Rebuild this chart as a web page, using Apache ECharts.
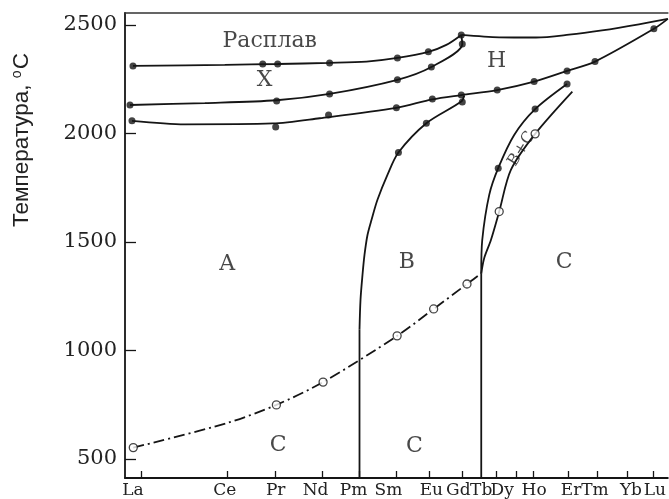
<!DOCTYPE html>
<html><head><meta charset="utf-8">
<script src="https://cdn.jsdelivr.net/npm/echarts@6/dist/echarts.min.js"></script>
<style>html,body{margin:0;padding:0;background:#fff}#c{width:669px;height:499px}</style>
</head><body><div id="c"></div>
<script>
// Element tick positions along the x axis (arbitrary ionic-size scale)
const elements = ['La','Ce','Pr','Nd','Pm','Sm','Eu','Gd','Tb','Dy','Ho','Er','Tm','Yb','Lu'];
const elementPos = [1.6,10.2,15.1,19.8,23.5,27.2,30.5,33.8,37.2,39.2,40.9,44.4,47.3,50.3,52.9];
const yTicks = [500,1000,1500,2000,2500];

// Phase boundary curves [x, T]
const meltXUpper = [[0.8,2311],[10,2316],[15.3,2320],[20.5,2325],[24.2,2331],[27.3,2348],[30.4,2376],[32.2,2408],[33.7,2454]];
const xhBoundary = [[0.5,2131],[8,2140],[15.2,2153],[20.5,2182],[27.3,2247],[30.7,2306],[33.8,2412],[33.7,2454]];
const axBoundary = [[0.7,2058],[6,2042],[14.8,2046],[19.5,2070],[27.2,2118],[30.8,2157],[33.7,2177],[37.3,2200],[41.0,2239],[44.3,2288],[47.1,2331],[53.0,2482],[54.4,2528]];
const meltH = [[33.7,2454],[37.5,2443],[41.2,2442],[44.5,2455],[47.8,2475],[51.5,2503],[54.4,2528]];
const abBoundary = [[34.0,2175],[33.7,2147],[30.2,2047],[27.4,1912],[26.3,1809],[25.3,1694],[24.7,1601],[24.3,1532],[24.0,1440],[23.8,1348],[23.6,1233],[23.5,1095]];
const pmLine = [[23.5,1095],[23.5,412]];
const acTransition = [[0.83,552],[10.2,665],[15.17,749],[19.85,854],[27.27,1067],[30.93,1191],[34.27,1306],[35.7,1355]];
const tbLine = [[35.7,412],[35.7,1355]];
const bbcBoundary = [[35.7,1355],[35.8,1509],[36.5,1717],[37.4,1840],[39.0,1993],[41.1,2112],[44.3,2228]];
const bccBoundary = [[35.7,1355],[36.0,1426],[36.67,1509],[37.5,1640],[38.67,1832],[41.1,1998],[44.83,2193]];

// Measured points
const filledPts = [[0.8,2311],[13.8,2320],[15.3,2320],[20.5,2325],[27.3,2348],[30.4,2376],[33.7,2454],
  [0.5,2131],[15.2,2150],[20.5,2182],[27.3,2247],[30.7,2306],[33.8,2412],
  [0.7,2058],[15.1,2030],[20.4,2085],[27.2,2118],[30.8,2159],[33.7,2177],[37.3,2200],[41.0,2239],[44.3,2288],[47.1,2331],[53.0,2482],
  [33.8,2145],[30.2,2047],[27.4,1912],
  [37.4,1840],[41.1,2112],[44.3,2228]];
const openPts = [[0.83,552],[15.17,749],[19.85,854],[27.27,1067],[30.93,1191],[34.27,1306],[37.5,1640],[41.1,1998]];

// Region labels [x, T, text]
const regionLabels = [[14.5,2426,'Расплав'],[14.0,2247,'X'],[37.25,2332,'H'],[10.25,1396,'A'],[28.25,1406,'B'],[44.0,1406,'C'],[15.35,565,'C'],[29.0,558,'C']];
const bcLabel = [[39.75,1929,'B+C']];

const labelShift = {La:-8,Ce:-2,Pr:0,Nd:-7,Pm:-6,Sm:-8,Eu:2,Gd:-4,Tb:-15,Dy:-14,Ho:1,Er:3,Tm:-2,Yb:4,Lu:2};
const SERIF = '"DejaVu Serif", serif';
const rich = {};
elements.forEach(n => {
  const s = labelShift[n];
  rich[n] = {fontFamily: SERIF, fontSize: 17, color: '#222',
    padding: s < 0 ? [0, -2*s, 0, 0] : [0, 0, 0, 2*s]};
});

const ink = '#151515';
function curve(data, extra) {
  return Object.assign({type:'line', data, smooth:0.3, symbol:'none',
    lineStyle:{color:ink, width:1.8}, silent:true, z:2}, extra||{});
}

const chart = echarts.init(document.getElementById('c'), null, {renderer:'canvas'});
chart.setOption({
  animation:false,
  backgroundColor:'#fff',
  grid:{left:125, right:0, top:13, bottom:21, containLabel:false},
  xAxis:[{
    type:'value', min:0, max:54.4, position:'bottom',
    axisLine:{show:true, lineStyle:{color:ink, width:1.8}},
    axisTick:{show:true, inside:true, length:7, customValues:elementPos, lineStyle:{color:ink, width:1.3}},
    axisLabel:{show:true, customValues:elementPos, margin:4, fontFamily:SERIF, fontSize:17, color:'#222',
      formatter:function(v){
        let best=0, d=1e9;
        elementPos.forEach((p,i)=>{ if(Math.abs(p-v)<d){d=Math.abs(p-v);best=i;} });
        const n = elements[best];
        return '{'+n+'|'+n+'}';
      }, rich:rich},
    splitLine:{show:false}
  },{
    type:'value', min:0, max:54.4, position:'top',
    axisLine:{show:true, lineStyle:{color:'#333', width:1.5}},
    axisTick:{show:false}, axisLabel:{show:false}, splitLine:{show:false}
  }],
  yAxis:{
    type:'value', min:412, max:2555,
    axisLine:{show:true, lineStyle:{color:ink, width:1.8}},
    axisTick:{show:true, inside:true, length:11, customValues:yTicks, lineStyle:{color:ink, width:1.3}},
    axisLabel:{show:true, customValues:yTicks, margin:8, fontFamily:SERIF, fontSize:21, color:'#222',
      formatter:function(v){ return String(Math.round(v)); }},
    splitLine:{show:false}
  },
  graphic:[{
    type:'text', x:22, y:140, rotation:Math.PI/2,
    style:{text:'Температура, {sup|o}C', fill:'#222', fontFamily:'"Liberation Sans", Arial, sans-serif', fontSize:22.5,
      align:'center', verticalAlign:'middle',
      rich:{sup:{fontSize:14, fontFamily:'"Liberation Sans", Arial, sans-serif', fill:'#222', verticalAlign:'top', padding:[0,1,10,0]}}}
  }],
  series:[
    curve(meltXUpper),
    curve(xhBoundary),
    curve(axBoundary),
    curve(meltH),
    curve(abBoundary),
    curve(pmLine, {smooth:false}),
    curve(acTransition, {lineStyle:{color:ink, width:1.8, type:[11,4,2,4]}}),
    curve(tbLine, {smooth:false}),
    curve(bbcBoundary),
    curve(bccBoundary),
    {type:'scatter', data:filledPts, symbol:'circle', symbolSize:7, itemStyle:{color:ink}, silent:true, z:5},
    {type:'scatter', data:openPts, symbol:'circle', symbolSize:8, itemStyle:{color:'#fff', borderColor:ink, borderWidth:1.3}, silent:true, z:5},
    {type:'scatter', data:regionLabels, symbolSize:0, silent:true, z:6,
      label:{show:true, position:'inside', formatter:p=>p.data[2], fontFamily:SERIF, fontSize:22, color:'#1a1a1a'}},
    {type:'scatter', data:bcLabel, symbolSize:0, silent:true, z:6,
      label:{show:true, position:'inside', rotate:58, formatter:p=>p.data[2], fontFamily:SERIF, fontSize:16, color:'#1a1a1a'}}
  ]
});
</script></body></html>
